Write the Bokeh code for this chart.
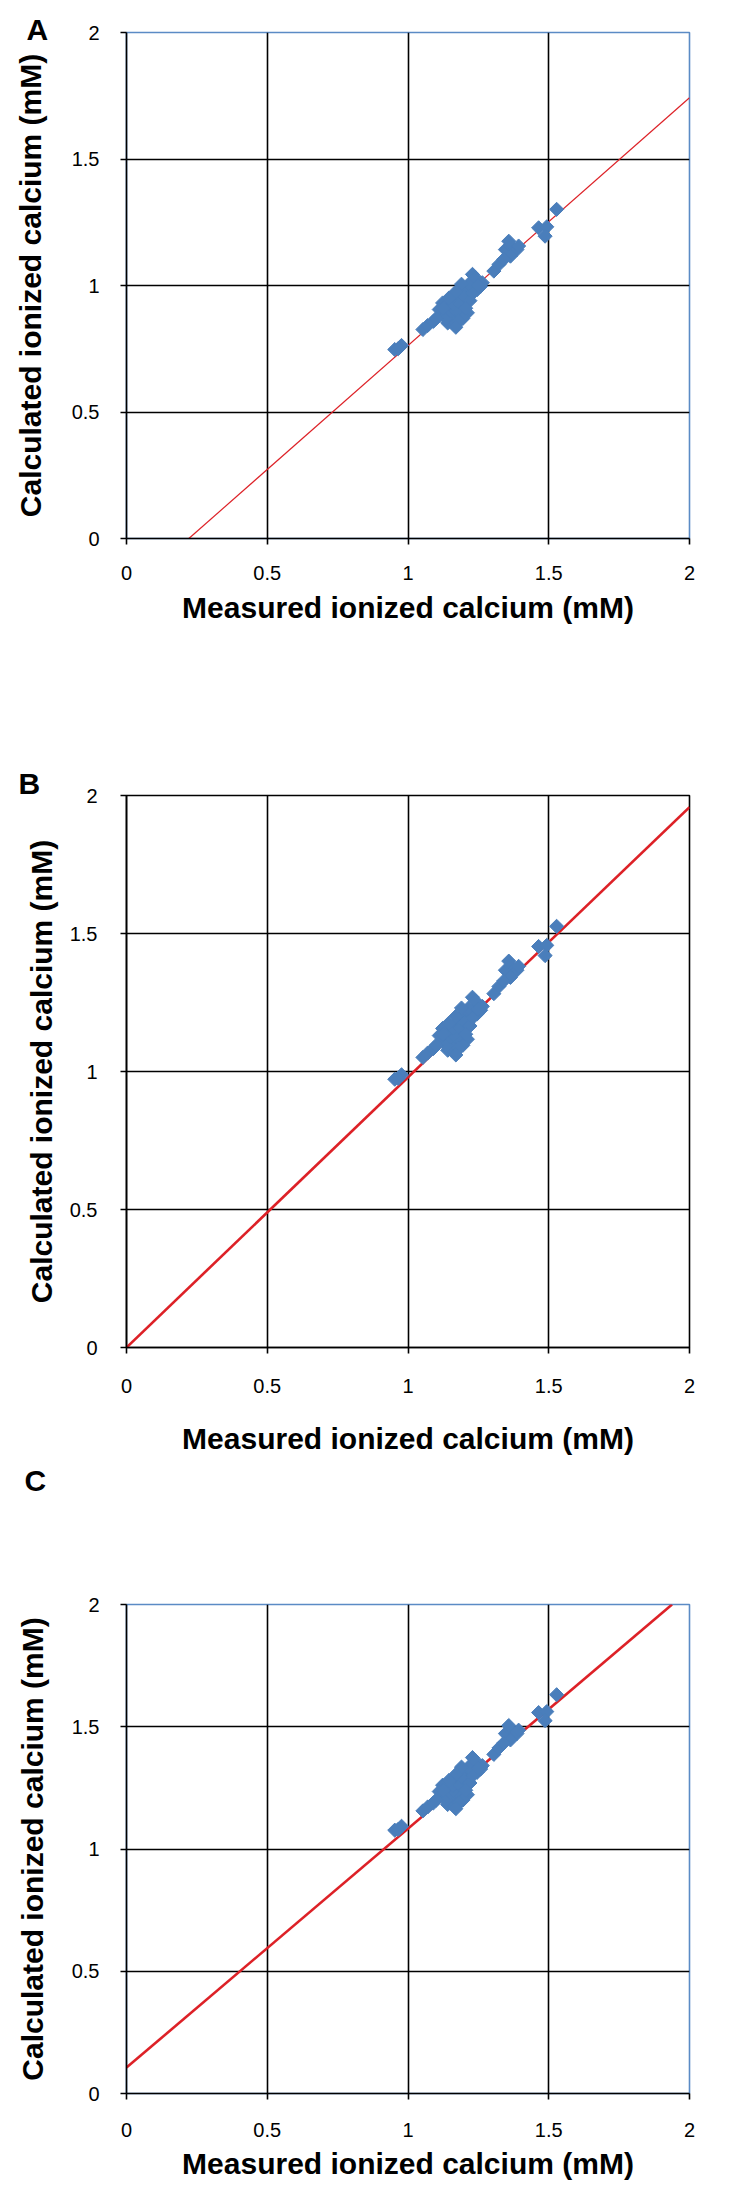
from bokeh.plotting import figure
from bokeh.layouts import column
from bokeh.models import Range1d, FixedTicker, LinearAxis
from bokeh.embed import file_html
from bokeh.resources import INLINE

# ---------------- data ----------------
tick_values = [0, 0.5, 1, 1.5, 2]
tick_labels = ["0", "0.5", "1", "1.5", "2"]

measured = [0.953, 0.977, 0.965, 1.053, 1.070, 1.090, 1.141, 1.164, 1.129, 1.147,
            1.176, 1.194, 1.205, 1.182, 1.223, 1.235, 1.246, 1.229, 1.258, 1.199,
            1.164, 1.123, 1.111, 1.211, 1.188, 1.153, 1.176, 1.211, 1.246, 1.264,
            1.305, 1.323, 1.346, 1.364, 1.387, 1.364, 1.340, 1.393, 1.358, 1.464,
            1.493, 1.487, 1.528,
            1.135, 1.150, 1.170, 1.160, 1.185, 1.200, 1.190, 1.220, 1.230, 1.215,
            1.240, 1.195, 1.180, 1.100, 1.125, 1.250, 1.205, 1.170, 1.190, 1.170,
            1.145]

calc_A = [0.747, 0.763, 0.750, 0.826, 0.842, 0.858, 0.852, 0.846, 0.892, 0.925,
          0.879, 0.905, 0.931, 0.958, 0.971, 0.997, 1.011, 1.044, 0.997, 0.984,
          0.945, 0.931, 0.905, 0.892, 0.866, 0.872, 0.918, 0.951, 0.984, 1.011,
          1.057, 1.083, 1.142, 1.156, 1.142, 1.116, 1.103, 1.156, 1.175, 1.228,
          1.232, 1.195, 1.301,
          0.870, 0.900, 0.900, 0.930, 0.930, 0.955, 0.885, 0.940, 0.970, 1.005,
          1.030, 0.870, 0.860, 0.870, 0.910, 1.000, 0.910, 0.835, 1.005, 0.975,
          0.950]

calc_B = [0.972, 0.988, 0.975, 1.051, 1.067, 1.083, 1.077, 1.071, 1.117, 1.150,
          1.104, 1.130, 1.156, 1.183, 1.196, 1.222, 1.236, 1.269, 1.222, 1.209,
          1.170, 1.156, 1.130, 1.117, 1.091, 1.097, 1.143, 1.176, 1.209, 1.236,
          1.282, 1.308, 1.367, 1.381, 1.367, 1.341, 1.328, 1.381, 1.400, 1.453,
          1.457, 1.420, 1.526,
          1.095, 1.125, 1.125, 1.155, 1.155, 1.180, 1.110, 1.165, 1.195, 1.230,
          1.255, 1.095, 1.085, 1.095, 1.135, 1.225, 1.135, 1.060, 1.230, 1.200,
          1.175]

calc_C = [1.077, 1.093, 1.080, 1.156, 1.172, 1.188, 1.182, 1.176, 1.222, 1.255,
          1.209, 1.235, 1.261, 1.288, 1.301, 1.327, 1.341, 1.374, 1.327, 1.314,
          1.275, 1.261, 1.235, 1.222, 1.196, 1.202, 1.248, 1.281, 1.314, 1.341,
          1.387, 1.413, 1.472, 1.486, 1.472, 1.446, 1.433, 1.486, 1.505, 1.558,
          1.562, 1.525, 1.631,
          1.200, 1.230, 1.230, 1.260, 1.260, 1.285, 1.215, 1.270, 1.300, 1.335,
          1.360, 1.200, 1.190, 1.200, 1.240, 1.330, 1.240, 1.165, 1.335, 1.305,
          1.280]

fit_x_A = [0.2215, 2.0]
fit_y_A = [0.0, 1.742]
fit_x_B = [0.0, 2.0]
fit_y_B = [0.0, 1.958]
fit_x_C = [0.0, 1.938]
fit_y_C = [0.106, 2.0]

x_title = "Measured ionized calcium (mM)"
y_title = "Calculated ionized calcium (mM)"

FONT = "Liberation Sans"
BLUE = "#4A7EBB"
RED = "#DD2127"
EDGE_BLUE = "#5B8BC5"
W = 732


def make_panel(yvals, fx, fy, fit_w, outline, height, left, top, fw, fh,
               ylab_so, xlab_so, xtitle_so, ytitle_so):
    right = W - left - fw
    bottom = height - top - fh
    p = figure(width=W, height=height, output_backend="svg", toolbar_location=None,
               x_range=Range1d(0, 2), y_range=Range1d(0, 2),
               min_border_left=left, min_border_right=right,
               min_border_top=top, min_border_bottom=bottom,
               background_fill_color="white", border_fill_color="white")
    p.outline_line_color = outline
    p.outline_line_width = 1.6

    for ax in (p.xaxis[0], p.yaxis[0]):
        ax.ticker = FixedTicker(ticks=tick_values)
        ax.major_label_overrides = dict(zip(tick_values, tick_labels))
        ax.minor_tick_line_color = None
        ax.major_tick_in = 0
        ax.major_tick_out = 6
        ax.major_tick_line_color = "black"
        ax.major_tick_line_width = 1.6
        ax.axis_line_color = "black"
        ax.axis_line_width = 1.6
        ax.major_label_text_font = FONT
        ax.major_label_text_font_size = "20px"
        ax.major_label_text_color = "black"
        ax.axis_label_text_font = FONT
        ax.axis_label_text_font_size = "30px"
        ax.axis_label_text_font_style = "bold"
        ax.axis_label_text_color = "black"
    p.xaxis[0].axis_label = x_title
    p.yaxis[0].axis_label = y_title
    p.yaxis[0].major_label_standoff = ylab_so
    p.xaxis[0].major_label_standoff = xlab_so
    p.xaxis[0].axis_label_standoff = xtitle_so
    p.yaxis[0].axis_label_standoff = ytitle_so
    p.yaxis[0].major_label_orientation = "horizontal"

    for g in (p.xgrid[0], p.ygrid[0]):
        g.ticker = FixedTicker(ticks=[0.5, 1, 1.5])
        g.grid_line_color = "black"
        g.grid_line_width = 1.6

    p.line(fx, fy, line_color=RED, line_width=fit_w)
    p.scatter(measured, yvals, marker="square", size=10, angle=0.7854,
              fill_color=BLUE, line_color=BLUE)
    return p


def set_letter(p, letter, offset, standoff):
    p.title.text = letter
    p.title.align = "left"
    p.title.offset = offset
    p.title.standoff = standoff
    p.title.text_font = FONT
    p.title.text_font_size = "30px"
    p.title.text_font_style = "bold"
    p.title.text_color = "black"


def add_top_spacer(p, gap):
    # empty axis above the frame, only used to reserve vertical space
    ax = LinearAxis(ticker=FixedTicker(ticks=[]), axis_label=" ",
                    axis_line_color=None, major_tick_line_color=None,
                    minor_tick_line_color=None, major_tick_in=0, major_tick_out=0,
                    minor_tick_in=0, minor_tick_out=0,
                    major_label_standoff=0, major_label_text_font_size="0px",
                    axis_label_standoff=gap, axis_label_text_font_size="1px")
    p.add_layout(ax, "above")


# A: frame x 118-689, y 32-538 (figure at page y 0)
pA = make_panel(calc_A, fit_x_A, fit_y_A, 1.2, EDGE_BLUE, 700,
                118, 32, 571, 506, 21, 21, 8, 22)
set_letter(pA, "A", -100, -26)

# B: frame x 126-712, y 795-1347 (figure at page y 700)
pB = make_panel(calc_B, fit_x_B, fit_y_B, 2.6, "black", 760,
                126, 95, 586, 552, 23, 25, 26, 9)
set_letter(pB, "B", -108, -9)

# C: frame x 120-708, y 1604-2093 (figure at page y 1460)
pC = make_panel(calc_C, fit_x_C, fit_y_C, 2.6, EDGE_BLUE, 739,
                120, 144, 588, 489, 21, 23, 7, 20)
add_top_spacer(pC, 104)
set_letter(pC, "C", -102, 0)

layout = column(pA, pB, pC, spacing=0)
open("out.html", "w").write(file_html(layout, INLINE))
